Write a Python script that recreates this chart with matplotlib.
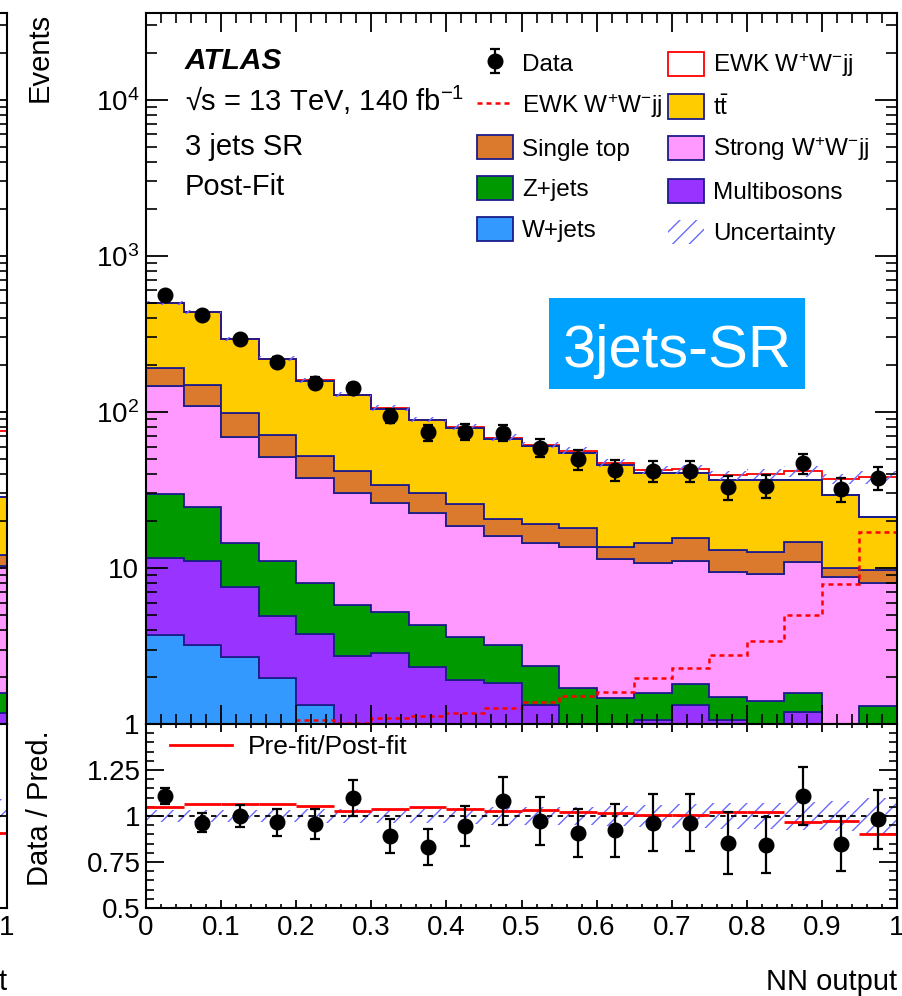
import numpy as np
import matplotlib
matplotlib.use('Agg')
import matplotlib.pyplot as plt
from matplotlib.patches import Patch, Rectangle
from matplotlib.lines import Line2D
from matplotlib.ticker import MultipleLocator, FixedLocator, LogLocator, NullFormatter

plt.rcParams['font.family'] = ['Liberation Sans', 'DejaVu Sans']
plt.rcParams['mathtext.default'] = 'regular'
plt.rcParams['hatch.linewidth'] = 1.0

# NN output binning, 20 bins
edges = np.linspace(0, 1, 21)
centers = 0.5 * (edges[:-1] + edges[1:])

# post-fit yields per bin (3 jets SR)
wjets = [3.72, 3.21, 2.70, 1.98, 1.32, 0.25, 0.2, 0.2, 0.15, 0.15,
         0.1, 0.1, 0.1, 0.1, 0.1, 0.1, 0.1, 0.1, 0.05, 0.05]
multib = [7.9, 7.9, 4.8, 2.94, 2.46, 2.48, 2.64, 2.13, 1.76, 1.67,
          1.22, 0.6, 0.6, 0.96, 1.22, 0.96, 0.6, 1.1, 0.4, 0.6]
zjets = [18.1, 13.3, 6.9, 6.1, 4.2, 3.06, 2.41, 1.98, 1.72, 1.39,
         1.02, 1.01, 0.76, 0.51, 0.48, 0.42, 0.70, 0.39, 0.45, 0.65]
strong = [117, 84.6, 55.1, 40.2, 29.6, 24.3, 20.8, 18.1, 15.0, 12.7,
          12.2, 11.9, 9.9, 9.2, 9.2, 7.9, 7.8, 9.4, 7.9, 6.75]
stop = [45, 40, 28.6, 20.0, 14.9, 12.0, 8.0, 7.7, 7.1, 4.6,
        4.6, 4.3, 2.3, 3.6, 4.5, 3.6, 3.5, 3.6, 1.2, 1.65]
ttbar = [306, 287, 194, 147, 106, 86, 71, 58, 53, 46.5,
         41, 37, 32, 26.4, 25.3, 23.6, 23.9, 22.0, 19.4, 11.6]
ewk = [1.0, 1.0, 1.0, 1.0, 1.06, 1.02, 1.09, 1.125, 1.17, 1.26,
       1.38, 1.51, 1.60, 1.96, 2.27, 2.76, 3.42, 5.0, 7.86, 16.9]

data = [562, 419, 292, 210, 154, 142, 94.2, 74.1, 74.8, 73.7,
        59.0, 49.7, 42.5, 42.0, 42.0, 33.2, 33.7, 46.9, 31.9, 37.9]
data_err = [23.7, 20.5, 17.1, 14.5, 12.4, 11.9, 9.7, 8.6, 8.6, 8.6,
            7.7, 7.0, 6.5, 6.5, 6.5, 5.8, 5.8, 6.8, 5.6, 6.2]

# relative uncertainty on the prediction
unc = [0.035, 0.035, 0.035, 0.035, 0.04, 0.04, 0.04, 0.04, 0.045, 0.05,
       0.05, 0.05, 0.055, 0.06, 0.065, 0.07, 0.07, 0.075, 0.08, 0.1]

# ratio panel
ratio = [1.109, 0.964, 1.0, 0.967, 0.955, 1.097, 0.891, 0.831, 0.945, 1.082,
         0.973, 0.909, 0.922, 0.964, 0.964, 0.854, 0.842, 1.109, 0.849, 0.982]
ratio_err = [0.045, 0.05, 0.06, 0.073, 0.082, 0.097, 0.093, 0.10, 0.11, 0.13,
             0.13, 0.13, 0.145, 0.153, 0.153, 0.167, 0.15, 0.16, 0.15, 0.16]
prefit = [1.051, 1.064, 1.066, 1.064, 1.055, 1.027, 1.038, 1.048, 1.037, 1.027,
          1.033, 1.024, 1.015, 1.004, 1.004, 1.022, 1.022, 0.967, 0.973, 0.904]

# last bin of the neighbouring (cut off) panel
nb_edges = [0.95, 1.0]
nb_stack = [[0.4], [0.77], [0.41], [8.7], [1.8], [16.4]]
nb_ewk = [47.0]

NAVY = '#1c1c8a'
HATCH = '#6a6aff'
colors = ['#3399ff', '#9933ff', '#009900', '#ff99ff', '#db7a2c', '#ffcc00']

W, H = 902, 996
def fx(px):
    return px / W
def fy(py):
    return 1 - py / H

fig = plt.figure(figsize=(9.02, 9.96), dpi=100)
ax = fig.add_axes([fx(146), fy(724), (897 - 146) / W, (724 - 13) / H])
rax = fig.add_axes([fx(146), fy(908), (897 - 146) / W, (908 - 724) / H])


def style_axes(a, rat):
    a.set_xlim(0, 1)
    a.xaxis.set_minor_locator(MultipleLocator(0.02))
    a.xaxis.set_major_locator(MultipleLocator(0.1))
    for s in a.spines.values():
        s.set_linewidth(1.5)
    if rat:
        a.tick_params(axis='x', which='major', length=5.8, width=1.3)
        a.tick_params(axis='x', which='minor', length=3, width=1.2)
        a.tick_params(axis='y', which='major', length=13, width=1.3)
        a.tick_params(axis='y', which='minor', length=5.8, width=1.2)
    else:
        a.tick_params(axis='x', which='major', length=14, width=1.3)
        a.tick_params(axis='x', which='minor', length=7, width=1.2)
        a.tick_params(axis='y', which='major', length=16, width=1.3)
        a.tick_params(axis='y', which='minor', length=8, width=1.2)
    a.tick_params(which='both', direction='in', top=True, right=True, labelsize=20)


def draw_stack(a, stack, ew, bins):
    base = np.full(len(stack[0]), 1e-3)
    for vals, col in zip(stack, colors):
        top = base + np.array(vals)
        a.stairs(top, bins, baseline=base, fill=True, facecolor=col,
                 edgecolor=NAVY, linewidth=1.3)
        base = top
    a.stairs(base + np.array(ew), bins, baseline=None, color='red', linewidth=1.3)
    a.stairs(base, bins, baseline=None, color=NAVY, linewidth=1.3)
    return base


# ---- upper panel ----
total = draw_stack(ax, [wjets, multib, zjets, strong, stop, ttbar], ewk, edges)
pred = total + np.array(ewk)
u = np.array(unc)
ax.stairs(pred * (1 + u), edges, baseline=pred * (1 - u), fill=True, facecolor='none',
          edgecolor=HATCH, linewidth=0, hatch='//')
ax.stairs(ewk, edges, baseline=None, color='red', linewidth=1.8, linestyle=(0, (2, 1.6)))
h_data = ax.errorbar(centers, data, yerr=data_err, fmt='o', color='black', ms=10.5,
                     elinewidth=1.6, capsize=3.5, capthick=1.6, zorder=5)

ax.set_yscale('log')
ax.set_ylim(1, 3.6e4)
style_axes(ax, False)
ax.yaxis.set_major_locator(FixedLocator([1, 10, 100, 1000, 10000]))
ax.set_yticklabels(['1', '10', '10$^{2}$', '10$^{3}$', '10$^{4}$'])
ax.yaxis.set_minor_locator(LogLocator(subs=np.arange(2, 10), numticks=30))
ax.yaxis.set_minor_formatter(NullFormatter())
ax.tick_params(axis='x', labelbottom=False)
ax.tick_params(axis='y', pad=5)

# legend, two columns
lkw = dict(loc='upper left', bbox_transform=fig.transFigure, frameon=False, fontsize=17.5,
           handlelength=1.48, handleheight=1.15, handletextpad=0.37, labelspacing=0.64,
           borderpad=0, borderaxespad=0)
h_ewkline = Line2D([], [], color='red', linewidth=1.8, linestyle=(0, (2, 1.6)))
patch = lambda c: Patch(facecolor=c, edgecolor=NAVY, linewidth=1.3)
leg1 = ax.legend([h_data, h_ewkline, patch(colors[4]), patch(colors[2]), patch(colors[0])],
                 ['Data', 'EWK W$^{+}$W$^{-}$jj', 'Single top', 'Z+jets', 'W+jets'],
                 bbox_to_anchor=(fx(477), fy(51)), **lkw)
ax.add_artist(leg1)
ax.legend([Patch(facecolor='white', edgecolor='red', linewidth=1.3), patch(colors[5]),
           patch(colors[3]), patch(colors[1]),
           Patch(facecolor='none', edgecolor=HATCH, linewidth=0, hatch='//')],
          ['EWK W$^{+}$W$^{-}$jj', r't$\bar{t}$', 'Strong W$^{+}$W$^{-}$jj', 'Multibosons', 'Uncertainty'],
          bbox_to_anchor=(fx(668), fy(51)), **lkw)

fig.text(fx(185), fy(69), 'ATLAS', fontsize=21.5, fontweight='bold', fontstyle='italic', va='baseline')
fig.text(fx(185), fy(111), '\u221as = 13 TeV, 140 fb$^{-1}$', fontsize=21, va='baseline')
fig.text(fx(185), fy(155), '3 jets SR', fontsize=21, va='baseline')
fig.text(fx(185), fy(195), 'Post-Fit', fontsize=21, va='baseline')

fig.add_artist(Rectangle((fx(549), fy(389)), (805 - 549) / W, (389 - 298) / H,
                         transform=fig.transFigure, facecolor='#00a2ff', edgecolor='none'))
fig.text(fx(677), fy(367), '3jets-SR', ha='center', va='baseline', fontsize=43, color='white')

# ---- ratio panel ----
rax.stairs(1 + u, edges, baseline=1 - u, fill=True, facecolor='none',
           edgecolor=HATCH, linewidth=0, hatch='//')
rax.axhline(1, color='black', linestyle=(0, (3, 3)), linewidth=1.3)
rax.hlines(prefit, edges[:-1], edges[1:], colors='red', linewidth=2)
rax.errorbar(centers, ratio, yerr=ratio_err, fmt='o', color='black', ms=10.5,
             elinewidth=1.6, capsize=3.5, capthick=1.6, zorder=5)
rax.set_ylim(0.5, 1.5)
style_axes(rax, True)
rax.set_yticks([0.5, 0.75, 1, 1.25], ['0.5', '0.75', '1', '1.25'])
rax.yaxis.set_minor_locator(MultipleLocator(0.05))
xt = np.round(np.arange(0, 1.01, 0.1), 1)
rax.set_xticks(xt, ['0' if v == 0 else '1' if v == 1 else f'{v:.1f}' for v in xt])
rax.tick_params(axis='x', pad=5)
rax.tick_params(axis='y', pad=4)
rax.legend([Line2D([], [], color='red', linewidth=2)], ['Pre-fit/Post-fit'],
           loc='center left', bbox_to_anchor=(fx(170), fy(747)), bbox_transform=fig.transFigure,
           frameon=False, fontsize=19, handlelength=2.35, handletextpad=0.6,
           borderpad=0, borderaxespad=0)

fig.text(fx(40), fy(13), 'Events', rotation=90, ha='center', va='top', fontsize=21)
fig.text(fx(40), fy(730), 'Data / Pred.', rotation=90, ha='center', va='top', fontsize=21)
fig.text(fx(897), fy(990), 'NN output', ha='right', va='baseline', fontsize=21)

# ---- neighbouring panel, only its right edge is inside the canvas ----
nax = fig.add_axes([fx(7 - 751), fy(724), 751 / W, (724 - 13) / H])
draw_stack(nax, nb_stack, nb_ewk, nb_edges)
nax.set_yscale('log')
nax.set_ylim(1, 3.6e4)
style_axes(nax, False)
nax.yaxis.set_minor_locator(LogLocator(subs=np.arange(2, 10), numticks=30))
nax.tick_params(labelleft=False, labelbottom=False)
nrax = fig.add_axes([fx(7 - 751), fy(908), 751 / W, (908 - 724) / H])
nrax.stairs([1.09], nb_edges, baseline=[0.96], fill=True, facecolor='none',
            edgecolor=HATCH, linewidth=0, hatch='//')
nrax.hlines([0.91], [0.95], [1.0], colors='red', linewidth=2)
nrax.set_ylim(0.5, 1.5)
style_axes(nrax, True)
nrax.set_xticks([1], ['1'])
nrax.tick_params(axis='x', pad=5)
nrax.tick_params(labelleft=False)
fig.text(fx(7), fy(990), 'NN output', ha='right', va='baseline', fontsize=21)

fig.savefig('out.png', dpi=100)
